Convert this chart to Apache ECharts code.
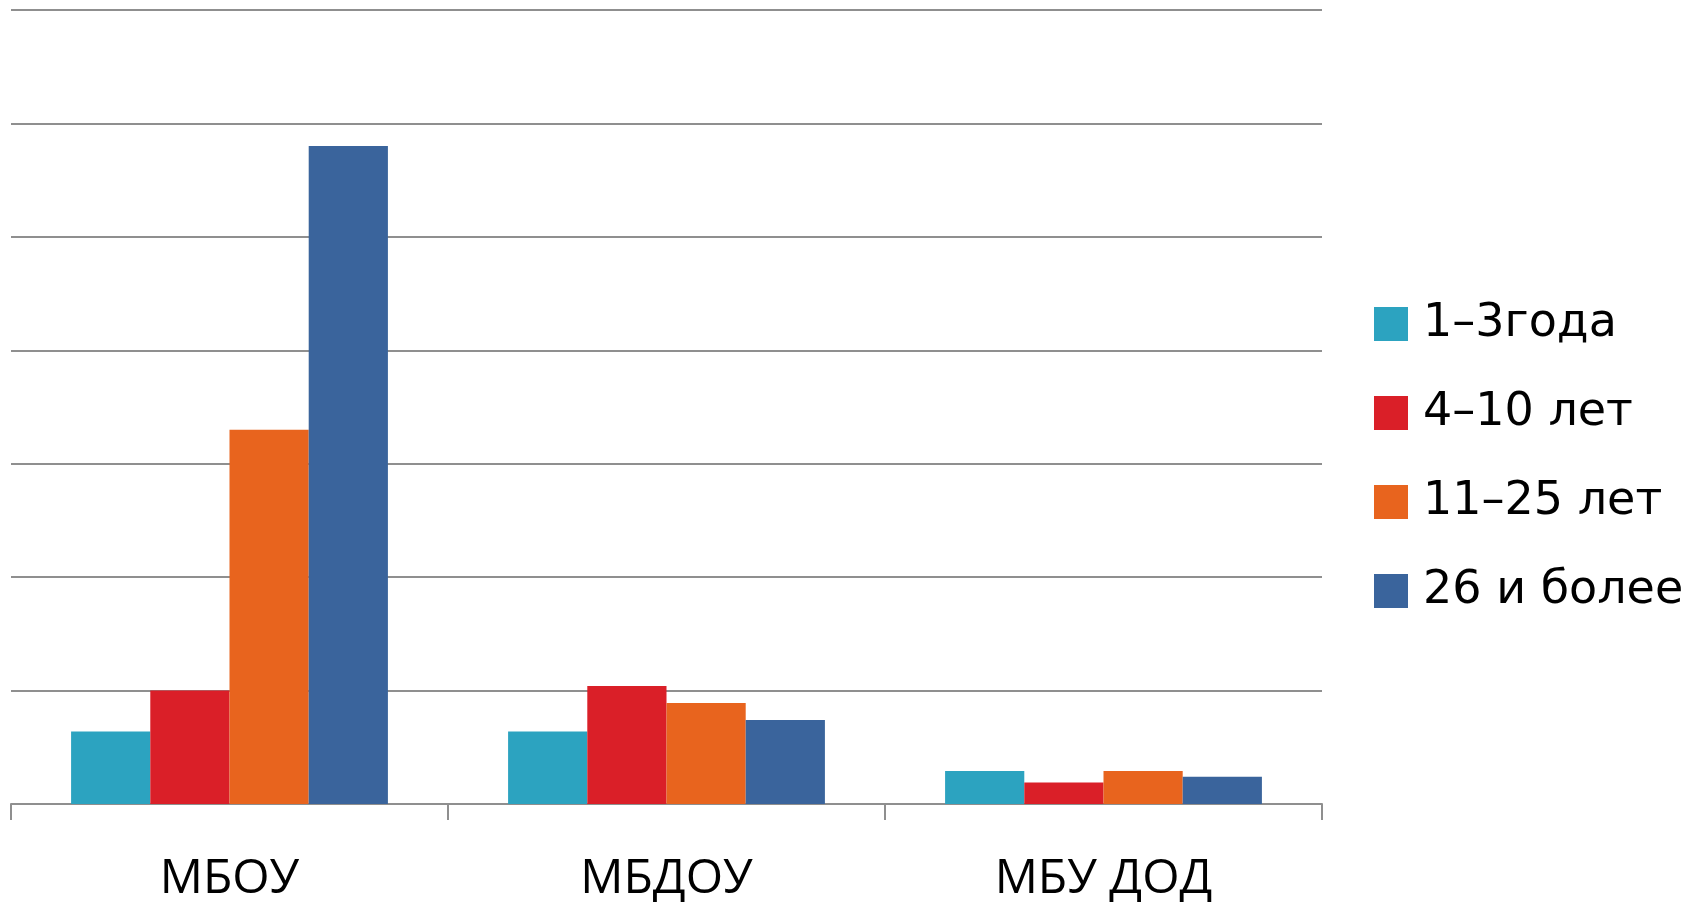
<!DOCTYPE html>
<html>
<head>
<meta charset="utf-8">
<script src="https://cdn.jsdelivr.net/npm/echarts@6/dist/echarts.min.js"></script>
<style>
html,body{margin:0;padding:0;background:#fff;}
#chart{width:1698px;height:903px;}
</style>
</head>
<body>
<div id="chart"></div>
<script>
const categories = ['МБОУ', 'МБДОУ', 'МБУ ДОД'];
const seriesNames = ['1–3года', '4–10 лет', '11–25 лет', '26 и более'];
const s1 = [6.4, 6.4, 2.9];
const s2 = [10, 10.4, 1.9];
const s3 = [33, 8.9, 2.9];
const s4 = [58, 7.4, 2.4];
const colors = ['#2CA3C0', '#DA1F28', '#E8641E', '#3A649C'];

const chart = echarts.init(document.getElementById('chart'));
const data = [s1, s2, s3, s4];
chart.setOption({
  animation: false,
  color: colors,
  grid: {left: 11, right: 376, top: 10, bottom: 99, containLabel: false},
  legend: {
    orient: 'vertical',
    left: 1369,
    top: 296,
    itemWidth: 34,
    itemHeight: 34,
    itemGap: 43,
    icon: 'rect',
    textStyle: {fontFamily: 'DejaVu Sans', fontSize: 46, color: '#000', padding: [0,0,0,10]},
    data: seriesNames
  },
  xAxis: {
    type: 'category',
    data: categories,
    axisLine: {lineStyle: {color: '#8f8f8f', width: 2}},
    axisTick: {show: true, length: 16, lineStyle: {color: '#8f8f8f', width: 2}},
    axisLabel: {fontFamily: 'Open Sans', fontSize: 48, color: '#000', margin: 51}
  },
  yAxis: {
    type: 'value',
    min: 0, max: 70, interval: 10,
    axisLabel: {show: false},
    axisLine: {show: false},
    axisTick: {show: false},
    splitLine: {lineStyle: {color: '#8f8f8f', width: 2}}
  },
  series: data.map((d, i) => ({
    name: seriesNames[i],
    type: 'bar',
    data: d,
    barGap: '0%',
    barCategoryGap: '27.5%'
  }))
});
</script>
</body>
</html>
